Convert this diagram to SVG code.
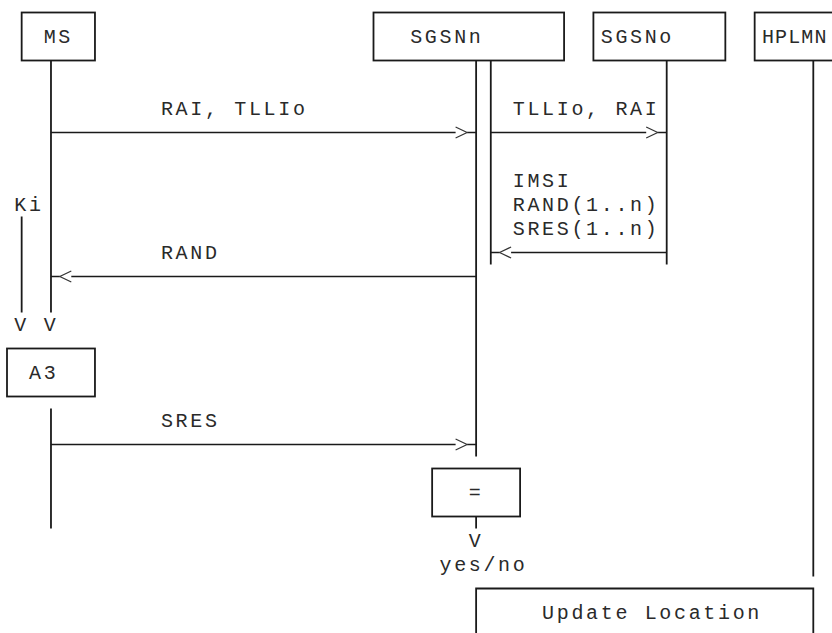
<svg xmlns="http://www.w3.org/2000/svg" width="832" height="633" viewBox="0 0 832 633">
<style>
  .bg { fill: #ffffff; }
  .box { fill: none; stroke: #1a1a1a; stroke-width: 1.8; }
  .ln { fill: none; stroke: #1a1a1a; stroke-width: 1.8; }
  .arr { fill: none; stroke: #1a1a1a; stroke-width: 1.6; }
  .chev { fill: none; stroke: #333; stroke-width: 1.2; }
  text { font-family: "Liberation Mono", "Courier New", monospace; font-size: 20px; letter-spacing: 2.66px; fill: #2a2a2a; }
  .tight { letter-spacing: 1.1px; }
</style>
<rect class="bg" x="0" y="0" width="832" height="633"/>

<g id="MS">
  <rect class="box" x="21.66" y="12.5" width="73.3" height="48"/>
  <text x="43.65" y="43">MS</text>
</g>
<g id="SGSNn">
  <rect class="box" x="373.5" y="12.5" width="190.58" height="48"/>
  <text x="410.15" y="43">SGSNn</text>
</g>
<g id="SGSNo">
  <rect class="box" x="593.4" y="12.5" width="131.94" height="48"/>
  <text x="600.73" y="43">SGSNo</text>
</g>
<g id="HPLMN">
  <rect class="box" x="754.66" y="12.5" width="120" height="48"/>
  <text class="tight" x="762" y="43">HPLMN</text>
</g>
<g id="Ki">
  <text x="14.33" y="211">Ki</text>
  <line class="ln" x1="21.66" y1="216.5" x2="21.66" y2="312.5"/>
  <text x="14.33" y="331">V</text>
</g>
<g id="A3">
  <rect class="box" x="7" y="348.5" width="87.96" height="48"/>
  <text x="29" y="379">A3</text>
</g>
<g id="compare">
  <rect class="box" x="432.14" y="468.5" width="87.96" height="48"/>
  <text x="468.79" y="499">=</text>
  <line class="ln" x1="476.12" y1="516.5" x2="476.12" y2="528.5"/>
  <text x="468.79" y="547">V</text>
  <text x="439.47" y="571">yes/no</text>
</g>
<g id="UpdateLocation">
  <path class="box" d="M476.12,640 V588.5 H813.3 V640"/>
  <text x="542.09" y="619">Update Location</text>
</g>

<g id="connectors">
  <!-- lifelines -->
  <line class="ln" x1="50.98" y1="60.5" x2="50.98" y2="312.5"/>
  <text x="43.65" y="331">V</text>
  <line class="ln" x1="50.98" y1="408.5" x2="50.98" y2="528.5"/>
  <line class="ln" x1="476.12" y1="60.5" x2="476.12" y2="456.5"/>
  <line class="ln" x1="490.78" y1="60.5" x2="490.78" y2="264.5"/>
  <line class="ln" x1="666.7" y1="60.5" x2="666.7" y2="264.5"/>
  <line class="ln" x1="813.3" y1="60.5" x2="813.3" y2="576.5"/>

  <!-- RAI, TLLIo -->
  <text x="160.93" y="115">RAI, TLLIo</text>
  <path class="arr" d="M50.98,132.5 H455.6 M467.1,132.5 H476.12"/>
  <path class="chev" d="M455.6,127 L467.1,132.5 L455.6,138"/>

  <!-- TLLIo, RAI -->
  <text x="512.77" y="115">TLLIo, RAI</text>
  <path class="arr" d="M490.78,132.5 H646.2 M657.7,132.5 H666.7"/>
  <path class="chev" d="M646.2,127 L657.7,132.5 L646.2,138"/>

  <!-- IMSI / RAND / SRES -->
  <text x="512.77" y="187">IMSI</text>
  <text x="512.77" y="211">RAND(1..n)</text>
  <text x="512.77" y="235">SRES(1..n)</text>
  <path class="arr" d="M666.7,252.5 H511.1 M499.6,252.5 H490.78"/>
  <path class="chev" d="M511.1,247 L499.6,252.5 L511.1,258"/>

  <!-- RAND -->
  <text x="160.93" y="259">RAND</text>
  <path class="arr" d="M476.12,276.5 H71.3 M59.8,276.5 H50.98"/>
  <path class="chev" d="M71.3,271 L59.8,276.5 L71.3,282"/>

  <!-- SRES -->
  <text x="160.93" y="427">SRES</text>
  <path class="arr" d="M50.98,444.5 H455.6 M467.1,444.5 H476.12"/>
  <path class="chev" d="M455.6,439 L467.1,444.5 L455.6,450"/>
</g>
</svg>
